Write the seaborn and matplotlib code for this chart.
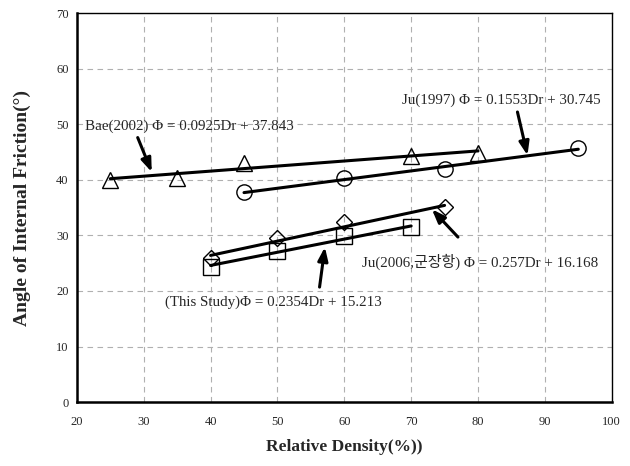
import matplotlib
matplotlib.use("Agg")
import matplotlib.pyplot as plt
import seaborn as sns
import pandas as pd

bae_dr = [25, 35, 45, 70, 80]
bae_phi = [40.0, 40.4, 43.0, 44.2, 44.9]
ju97_dr = [45, 60, 75, 95]
ju97_phi = [37.8, 40.3, 41.9, 45.7]
ju06_dr = [40, 50, 60, 75]
ju06_phi = [25.9, 29.5, 32.4, 35.1]
study_dr = [40, 50, 60, 70]
study_phi = [24.3, 27.2, 29.9, 31.5]

# Trend line end points
bae_fit_dr, bae_fit_phi = [25, 80], [40.2, 45.2]
ju97_fit_dr, ju97_fit_phi = [45, 95], [37.7, 45.5]
ju06_fit_dr, ju06_fit_phi = [40, 75], [26.4, 35.4]
study_fit_dr, study_fit_phi = [40, 70], [24.6, 31.7]

labels = [
    "Bae(2002) Φ = 0.0925Dr + 37.843",
    "Ju(1997) Φ = 0.1553Dr + 30.745",
    "Ju(2006,군장항) Φ = 0.257Dr + 16.168",
    "(This Study)Φ = 0.2354Dr + 15.213",
]

sns.set_style("white")
plt.rcParams['font.family'] = ['Liberation Serif', 'Noto Sans CJK KR']

fig = plt.figure(figsize=(6.3, 4.66), dpi=100)
ax = fig.add_axes([0.122, 0.137, 0.849, 0.835])

series = [
    (bae_dr, bae_phi, bae_fit_dr, bae_fit_phi, '^', 11),
    (ju97_dr, ju97_phi, ju97_fit_dr, ju97_fit_phi, 'o', 11),
    (ju06_dr, ju06_phi, ju06_fit_dr, ju06_fit_phi, 'D', 8.5),
    (study_dr, study_phi, study_fit_dr, study_fit_phi, 's', 12),
]

for dr, phi, fdr, fphi, mk, ms in series:
    sns.lineplot(x=fdr, y=fphi, ax=ax, color='black', linewidth=2.2)
    ax.plot(dr, phi, linestyle='none', marker=mk, markersize=ms,
            markerfacecolor='none', markeredgecolor='black', markeredgewidth=1.0)

# Annotations: text position, arrow head, arrow tail
ann = [
    (labels[0], (21.2, 49.6), (31.2, 41.4), (29.1, 47.6)),
    (labels[1], (68.6, 54.3), (87.4, 44.4), (85.9, 52.2)),
    (labels[2], (62.6, 25.2), (73.1, 34.7), (77.0, 29.7)),
    (labels[3], (33.2, 18.0), (57.1, 27.9), (56.3, 20.7)),
]
for txt, tpos, head, tail in ann:
    ax.text(tpos[0], tpos[1], txt, fontsize=10.8, va='center', ha='left')
    ax.annotate('', xy=head, xytext=tail,
                arrowprops=dict(arrowstyle='-|>,head_length=0.8,head_width=0.3',
                                color='black', lw=2.2, shrinkA=0, shrinkB=0))

ax.set_xlim(20, 100)
ax.set_ylim(0, 70)
ax.set_xticks(range(20, 101, 10))
ax.set_yticks(range(0, 71, 10))
ax.tick_params(axis='x', length=0, labelsize=9, pad=10)
ax.tick_params(axis='y', length=0, labelsize=9, pad=6)
ax.grid(True, color='#b0b0b0', linestyle=(0, (5, 4)), linewidth=0.8)
for s in ax.spines.values():
    s.set_color('black')
    s.set_linewidth(1.0)
ax.spines['left'].set_linewidth(1.8)
ax.spines['bottom'].set_linewidth(1.8)

ax.set_xlabel('Relative Density(%))', fontsize=12.5, fontweight='bold', labelpad=8)
ax.set_ylabel('Angle of Internal Friction(°)', fontsize=14, fontweight='bold', labelpad=18)

fig.savefig('out.png', dpi=100)
